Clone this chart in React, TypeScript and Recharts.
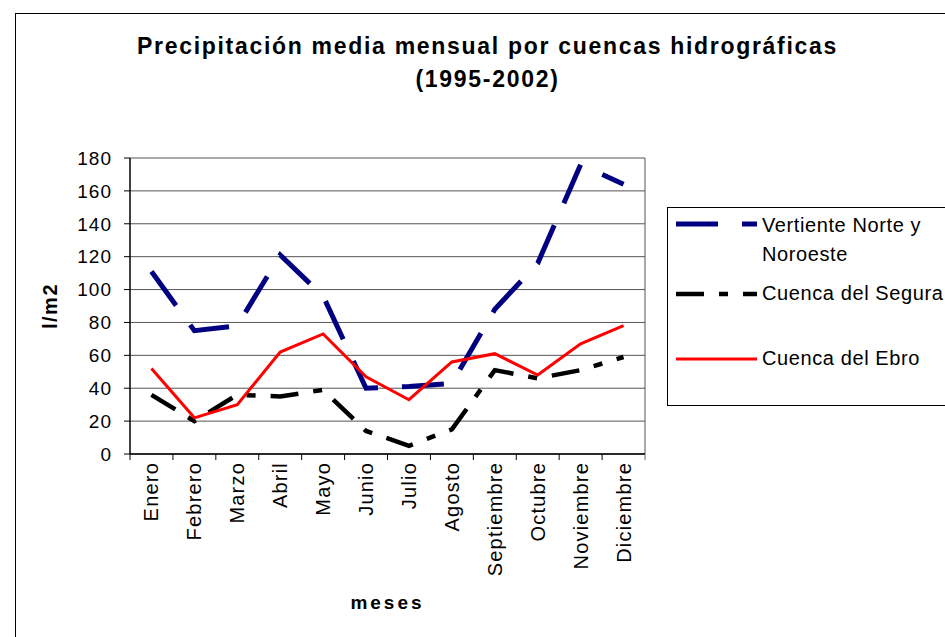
import React from 'react';
import { LineChart, Line, XAxis, YAxis, CartesianGrid, Legend } from 'recharts';

const months = ['Enero', 'Febrero', 'Marzo', 'Abril', 'Mayo', 'Junio', 'Julio', 'Agosto', 'Septiembre', 'Octubre', 'Noviembre', 'Diciembre'];
const norte = [111, 75, 78, 121, 96, 40, 41, 43, 88, 116, 176, 164];
const segura = [36, 20, 36, 35, 39, 14, 5, 15, 51, 46, 51, 59];
const ebro = [52, 22, 30, 62, 73, 47, 33, 56, 61, 48, 67, 78];
const yTicks = [0, 20, 40, 60, 80, 100, 120, 140, 160, 180];

const seriesNames = ['Vertiente Norte y Noroeste', 'Cuenca del Segura', 'Cuenca del Ebro'];

const data = months.map((m, i) => ({ month: m, norte: norte[i], segura: segura[i], ebro: ebro[i] }));

const FONT = '"Liberation Sans", Arial, sans-serif';
const TICK_SIZE = 6;
const TICK_MARGIN = 4;

const BLUE = '#000080';
const BLUE_DASH = '42 24';
const BLACK_DASH = '28 15 9 15';

const XTick = (props: any) => {
  const { x, y, payload, index } = props;
  const half = payload.offset || 0;
  const axisY = y - TICK_SIZE - TICK_MARGIN;
  return (
    <g>
      <line x1={x - half} y1={axisY} x2={x - half} y2={axisY + TICK_SIZE} stroke="#000" strokeWidth={1} />
      {index === months.length - 1 && (
        <line x1={x + half} y1={axisY} x2={x + half} y2={axisY + TICK_SIZE} stroke="#666" strokeWidth={1} />
      )}
      <text
        x={0}
        y={0}
        transform={`translate(${x + 7},${axisY + 8}) rotate(-90)`}
        textAnchor="end"
        fontSize={20}
        letterSpacing={1.2}
        fontFamily={FONT}
        fill="#000"
      >
        {payload.value}
      </text>
    </g>
  );
};

const LegendBox = () => (
  <div
    style={{
      width: 300,
      height: 199,
      border: '1px solid #000',
      background: '#fff',
      position: 'relative',
      fontFamily: FONT,
      fontSize: 20,
      letterSpacing: 0.6,
      color: '#000',
      boxSizing: 'border-box',
    }}
  >
    <svg width={95} height={198} style={{ position: 'absolute', left: 0, top: 0 }}>
      <line x1={8} y1={16} x2={89} y2={16} stroke={BLUE} strokeWidth={5} strokeDasharray={BLUE_DASH} />
      <line x1={8} y1={86} x2={89} y2={86} stroke="#000" strokeWidth={4.5} strokeDasharray={BLACK_DASH} />
      <line x1={8} y1={151} x2={89} y2={151} stroke="#f00" strokeWidth={3} />
    </svg>
    <div style={{ position: 'absolute', left: 94, top: 3, lineHeight: '29px' }}>
      Vertiente Norte y<br />Noroeste
    </div>
    <div style={{ position: 'absolute', left: 94, top: 71, lineHeight: '29px', whiteSpace: 'nowrap' }}>{seriesNames[1]}</div>
    <div style={{ position: 'absolute', left: 94, top: 136, lineHeight: '29px', whiteSpace: 'nowrap' }}>{seriesNames[2]}</div>
  </div>
);

export default function App() {
  return (
    <div style={{ position: 'absolute', left: 0, top: 0, width: 945, height: 637, overflow: 'hidden', background: '#fff' }}>
      <div
        style={{
          position: 'absolute',
          left: 15,
          top: 13,
          width: 1000,
          height: 700,
          borderLeft: '1px solid #000',
          borderTop: '1px solid #000',
        }}
      />
      <div
        style={{
          position: 'absolute',
          left: 0,
          top: 30,
          width: 975,
          textAlign: 'center',
          fontFamily: FONT,
          fontWeight: 'bold',
          fontSize: 23,
          lineHeight: '33px',
          letterSpacing: 1.7,
          color: '#000',
        }}
      >
        Precipitación media mensual por cuencas hidrográficas
        <br />
        (1995-2002)
      </div>
      <div style={{ position: 'absolute', left: 0, top: 0 }}>
        <LineChart width={945} height={637} data={data} margin={{ top: 158, right: 300, bottom: 83, left: 70 }}>
          <CartesianGrid
            stroke="#555"
            strokeWidth={1}
            horizontal={true}
            vertical={true}
            verticalCoordinatesGenerator={(p: any) => [p.offset.left + p.offset.width]}
          />
          <XAxis
            dataKey="month"
            scale="band"
            interval={0}
            height={100}
            axisLine={{ stroke: '#000', strokeWidth: 1.5 }}
            tickLine={false}
            tickSize={TICK_SIZE}
            tickMargin={TICK_MARGIN}
            tick={<XTick />}
            label={{
              content: (p: any) => {
                const vb = p.viewBox;
                return (
                  <text
                    x={vb.x + vb.width / 2}
                    y={vb.y + vb.height + 55}
                    textAnchor="middle"
                    fontFamily={FONT}
                    fontWeight="bold"
                    fontSize={19}
                    letterSpacing={3}
                    fill="#000"
                  >
                    meses
                  </text>
                );
              },
            }}
          />
          <YAxis
            width={60}
            domain={[0, 180]}
            ticks={yTicks}
            interval={0}
            axisLine={{ stroke: '#000', strokeWidth: 1.5 }}
            tickLine={{ stroke: '#000' }}
            tickSize={6}
            tickMargin={12}
            tick={{ fill: '#000', fontSize: 19, fontFamily: FONT, letterSpacing: 1 }}
            label={{
              content: (p: any) => {
                const vb = p.viewBox;
                const cx = vb.x - 20;
                const cy = vb.y + vb.height / 2;
                return (
                  <text
                    x={cx}
                    y={cy}
                    transform={`rotate(-90 ${cx} ${cy})`}
                    textAnchor="middle"
                    dominantBaseline="central"
                    fontFamily={FONT}
                    fontWeight="bold"
                    fontSize={20}
                    letterSpacing={1.5}
                    fill="#000"
                  >
                    l/m2
                  </text>
                );
              },
            }}
          />
          <Legend
            layout="vertical"
            align="center"
            verticalAlign="middle"
            content={() => <LegendBox />}
            wrapperStyle={{ left: 667, top: 207, width: 300, height: 199 }}
          />
          <Line
            type="linear"
            dataKey="norte"
            name={seriesNames[0]}
            stroke={BLUE}
            strokeWidth={5}
            strokeDasharray={BLUE_DASH}
            dot={false}
            isAnimationActive={false}
          />
          <Line
            type="linear"
            dataKey="segura"
            name={seriesNames[1]}
            stroke="#000"
            strokeWidth={4.5}
            strokeDasharray={BLACK_DASH}
            dot={false}
            isAnimationActive={false}
          />
          <Line
            type="linear"
            dataKey="ebro"
            name={seriesNames[2]}
            stroke="#f00"
            strokeWidth={3}
            dot={false}
            isAnimationActive={false}
          />
        </LineChart>
      </div>
    </div>
  );
}
